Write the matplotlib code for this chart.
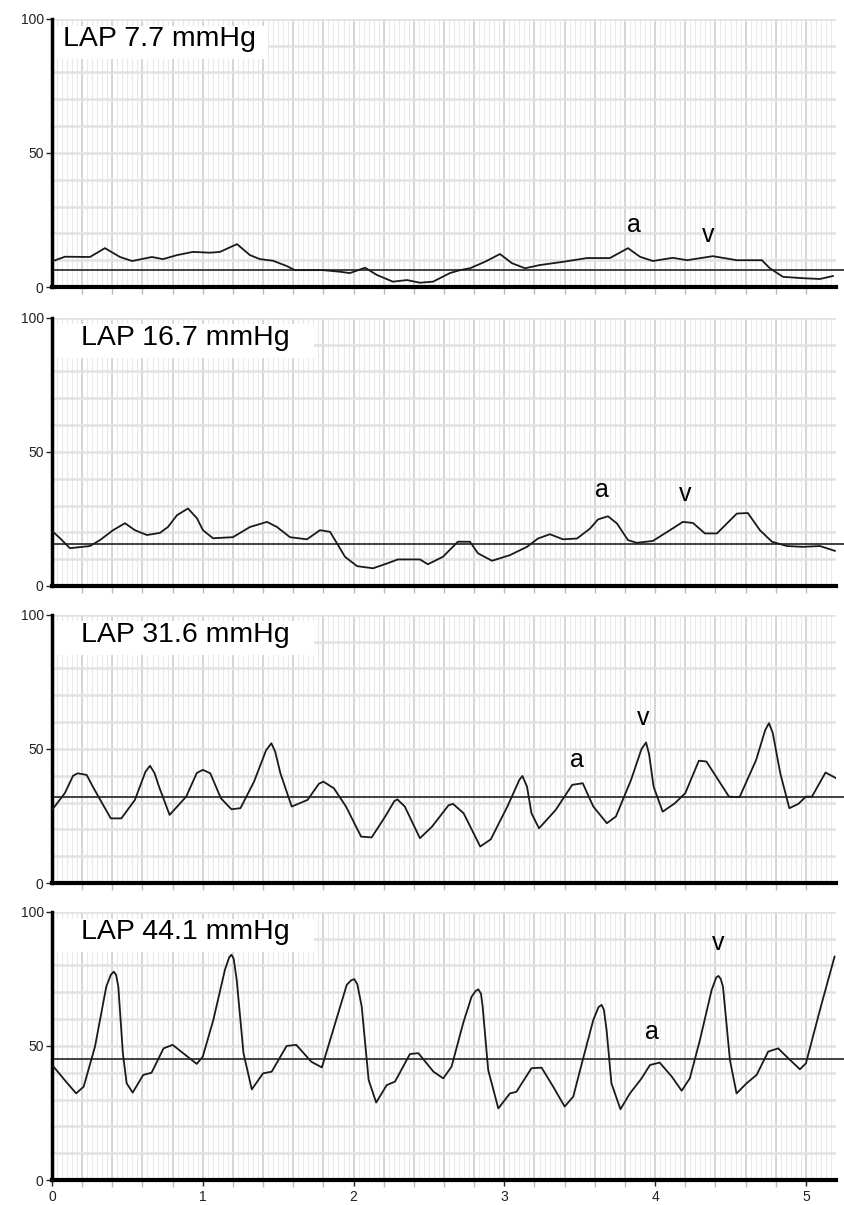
### LAP tracings at four pressure levels
# pressure (mmHg) against time (s), mean line drawn over each trace

import numpy as np
import matplotlib.pyplot as plt

plt.rcParams['font.family'] = ['Liberation Sans', 'DejaVu Sans']

# panel 1 - LAP 7.7 mmHg
t1 = [0.007, 0.086, 0.252, 0.351, 0.451, 0.531, 0.663, 0.736, 0.829, 0.935,
      1.048, 1.114, 1.227, 1.313, 1.379, 1.466, 1.558, 1.611, 1.797, 1.910,
      1.976, 2.076, 2.155, 2.261, 2.354, 2.440, 2.527, 2.639, 2.706, 2.772,
      2.871, 2.971, 3.050, 3.137, 3.236, 3.389, 3.548, 3.700, 3.820, 3.899,
      3.985, 4.118, 4.211, 4.383, 4.542, 4.708, 4.761, 4.848, 4.980, 5.093, 5.179]
p1 = [9.7, 11.3, 11.2, 14.5, 11.2, 9.7, 11.2, 10.4, 11.9, 13.1,
      12.8, 13.1, 16.0, 11.9, 10.4, 9.8, 7.8, 6.3, 6.3, 5.7,
      5.2, 7.2, 4.5, 2.0, 2.6, 1.6, 2.0, 5.2, 6.3, 7.0,
      9.4, 12.3, 8.9, 7.0, 8.2, 9.4, 10.8, 10.8, 14.5, 11.3,
      9.7, 10.9, 10.0, 11.5, 10.0, 10.0, 7.0, 3.8, 3.3, 3.0, 4.1]

# panel 2 - LAP 16.7 mmHg
t2 = [0.007, 0.053, 0.119, 0.252, 0.318, 0.405, 0.484, 0.550, 0.630, 0.716,
      0.769, 0.829, 0.902, 0.962, 1.001, 1.068, 1.200, 1.313, 1.426, 1.492,
      1.578, 1.691, 1.777, 1.844, 1.890, 1.943, 2.023, 2.129, 2.222, 2.294,
      2.440, 2.493, 2.593, 2.692, 2.772, 2.825, 2.918, 3.037, 3.150, 3.223,
      3.302, 3.389, 3.482, 3.568, 3.621, 3.687, 3.747, 3.820, 3.879, 3.985,
      4.098, 4.184, 4.251, 4.330, 4.410, 4.476, 4.542, 4.615, 4.695, 4.775,
      4.874, 4.980, 5.093, 5.192]
p2 = [20.2, 17.8, 14.1, 14.9, 17.1, 20.8, 23.4, 20.8, 19.0, 19.8,
      22.0, 26.4, 28.9, 25.2, 20.8, 17.8, 18.2, 22.0, 23.9, 22.0,
      18.2, 17.4, 20.8, 20.2, 15.9, 10.9, 7.4, 6.6, 8.4, 9.9,
      9.9, 8.1, 10.9, 16.5, 16.5, 12.2, 9.4, 11.5, 14.6, 17.7,
      19.3, 17.4, 17.7, 21.4, 24.8, 26.0, 23.3, 17.1, 16.1, 16.8,
      20.8, 23.9, 23.5, 19.6, 19.6, 23.3, 27.0, 27.2, 20.8, 16.5,
      14.9, 14.6, 14.9, 13.1]

# panel 3 - LAP 31.6 mmHg
t3 = [0.0, 0.085, 0.14, 0.17, 0.23, 0.27, 0.32, 0.39, 0.46, 0.55, 0.62, 0.65, 0.68,
      0.71, 0.78, 0.89, 0.96, 1.0, 1.05, 1.12, 1.19, 1.25, 1.34, 1.42, 1.455, 1.48,
      1.515, 1.59, 1.695, 1.77, 1.80, 1.87, 1.95, 2.05, 2.12, 2.21, 2.27, 2.29, 2.34,
      2.44, 2.52, 2.63, 2.66, 2.73, 2.84, 2.91, 3.02, 3.10, 3.12, 3.15, 3.18, 3.23,
      3.34, 3.45, 3.52, 3.59, 3.68, 3.74, 3.84, 3.91, 3.94, 3.96, 3.99, 4.05,
      4.13, 4.20, 4.29, 4.34, 4.49, 4.56, 4.67, 4.73, 4.755, 4.78, 4.83, 4.89,
      4.95, 5.0, 5.04, 5.13, 5.2]
p3 = [27.2, 33.5, 40.0, 40.9, 40.3, 36.0, 31.0, 24.1, 24.1, 31.0, 41.5, 43.7, 41.0,
      35.9, 25.4, 32.2, 41.0, 42.2, 40.9, 31.6, 27.5, 27.9, 37.8, 49.5, 52.1, 49.0,
      40.9, 28.5, 31.0, 37.0, 37.8, 35.3, 28.5, 17.3, 17.0, 24.8, 30.5, 31.2, 28.5,
      16.7, 21.0, 29.0, 29.5, 26.0, 13.6, 16.3, 28.5, 38.5, 39.9, 36.0, 26.0, 20.4,
      27.2, 36.6, 37.2, 28.5, 22.3, 24.8, 38.4, 50.0, 52.4, 48.0, 35.9, 26.6,
      29.7, 33.5, 45.6, 45.3, 32.2, 32.0, 45.9, 57.0, 59.6, 56.0, 40.9, 27.9,
      29.5, 32.2, 32.2, 41.2, 39.1]

# panel 4 - LAP 44.1 mmHg
t4 = [0.01, 0.075, 0.16, 0.21, 0.285, 0.36, 0.39, 0.41, 0.425, 0.44, 0.47, 0.495,
      0.535, 0.605, 0.66, 0.74, 0.80, 0.87, 0.96, 1.0, 1.07, 1.147, 1.175,
      1.19, 1.205, 1.225, 1.27, 1.325, 1.40, 1.457, 1.556, 1.62, 1.72, 1.79,
      1.865, 1.955, 1.985, 2.005, 2.025, 2.054, 2.10, 2.15, 2.22, 2.275, 2.374, 2.43,
      2.53, 2.595, 2.65, 2.727, 2.783, 2.81, 2.827, 2.845, 2.856, 2.893, 2.96, 3.037,
      3.08, 3.18, 3.247, 3.324, 3.40, 3.457, 3.52, 3.59, 3.625, 3.645, 3.66, 3.678,
      3.71, 3.77, 3.833, 3.91, 3.966, 4.03, 4.11, 4.176, 4.23, 4.297,
      4.375, 4.405, 4.42, 4.435, 4.45, 4.496, 4.54, 4.607, 4.673, 4.75, 4.816, 4.872,
      4.96, 5.0, 5.093, 5.19]
p4 = [42.3, 37.9, 32.3, 34.8, 49.7, 72.1, 76.5, 77.7, 76.5, 72.1, 47.3, 36.1,
      32.6, 39.2, 40.0, 49.1, 50.4, 47.3, 43.3, 46.0, 59.7, 78.4, 83.0,
      84.0, 82.5, 74.6, 47.3, 33.8, 39.8, 40.4, 50.0, 50.4, 44.1, 42.0,
      56.0, 72.8, 74.5, 74.9, 73.0, 64.7, 37.3, 28.9, 35.4, 36.7, 47.0, 47.3,
      40.4, 37.9, 42.3, 58.5, 68.4, 70.5, 71.1, 69.5, 64.7, 41.0, 26.7, 32.3,
      32.9, 41.7, 41.9, 34.8, 27.4, 31.1, 44.8, 59.7, 64.5, 65.3, 63.5, 56.0,
      36.1, 26.4, 32.3, 37.9, 42.9, 43.8, 38.6, 33.3, 37.9, 52.2,
      70.9, 75.5, 76.1, 75.0, 72.1, 44.8, 32.3, 36.1, 39.2, 47.9, 49.1, 46.0,
      41.3, 43.5, 63.4, 83.3]

labels = ['LAP 7.7 mmHg', 'LAP 16.7 mmHg', 'LAP 31.6 mmHg', 'LAP 44.1 mmHg']
mean_lines = [6.3, 15.6, 32.0, 45.0]
# positions of the 'a' and 'v' marks (time, mmHg)
a_marks = [(3.86, 23.0), (3.65, 35.7), (3.48, 45.9), (3.98, 55.2)]
v_marks = [(4.35, 19.4), (4.20, 34.2), (3.92, 61.6), (4.42, 88.4)]
box_widths = [1.43, 1.74, 1.74, 1.74]
text_x = [0.073, 0.19, 0.19, 0.19]

traces = [(t1, p1), (t2, p2), (t3, p3), (t4, p4)]
bottoms = [0.7618, 0.5137, 0.2672, 0.0207]

fig = plt.figure(figsize=(8.44, 12.05), dpi=100)

for i in range(4):
    ax = fig.add_axes([0.0616, bottoms[i], 0.929, 0.2226])
    ax.set_xlim(0, 5.2)
    ax.set_ylim(0, 100)

    # chart paper grid
    fine = np.arange(1/30, 5.2, 1/30)
    coarse = np.arange(0.2, 5.2, 0.2)
    ax.vlines(fine, 0, 100, colors='#e9e9e9', lw=0.8, zorder=0)
    ax.vlines(coarse, 0, 100, colors='#d6d6d6', lw=1.4, zorder=0)
    ax.hlines(np.arange(10, 101, 10), 0, 5.2, colors='#e2e2e2', lw=1.8, zorder=0.5)

    # white box behind the label
    ax.add_patch(plt.Rectangle((0, 85), box_widths[i], 12.5, facecolor='white',
                               edgecolor='none', zorder=1))
    ax.text(text_x[i], 92.5, labels[i], fontsize=20.5, va='center', ha='left', zorder=3)

    # mean pressure line
    ax.hlines(mean_lines[i], 0, 5.27, colors='#333333', lw=1.3, zorder=2, clip_on=False)

    t, p = traces[i]
    ax.plot(t, p, color='#1a1a1a', lw=1.3, zorder=3, solid_joinstyle='round')

    ax.text(a_marks[i][0], a_marks[i][1], 'a', fontsize=18, ha='center', va='center')
    ax.text(v_marks[i][0], v_marks[i][1], 'v', fontsize=18, ha='center', va='center')

    for s in ['top', 'right']:
        ax.spines[s].set_visible(False)
    ax.spines['left'].set_linewidth(2.5)
    ax.spines['bottom'].set_linewidth(3)

    ax.set_yticks([0, 50, 100])
    ax.tick_params(axis='y', length=4, width=1, labelsize=10, pad=2, colors='#222222')
    ax.set_xticks(coarse, minor=True)
    ax.tick_params(axis='x', which='minor', length=5, width=1, color='#bbbbbb')
    if i == 3:
        ax.set_xticks([0, 1, 2, 3, 4, 5])
        ax.tick_params(axis='x', which='major', length=4, width=1, labelsize=10, colors='#222222')
    else:
        ax.set_xticks([])
        ax.set_xticks(coarse, minor=True)

plt.savefig('out.png', format='png', dpi=100)
